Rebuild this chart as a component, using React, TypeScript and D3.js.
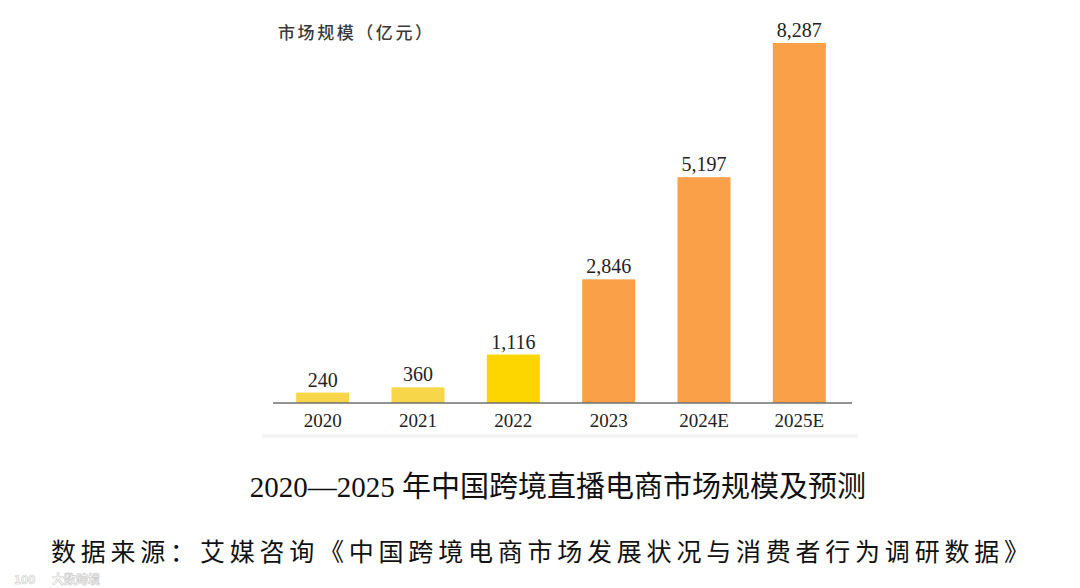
import { useEffect, useRef } from 'react';
import * as d3 from 'd3';

const years = ['2020', '2021', '2022', '2023', '2024E', '2025E'];
const marketSize = [240, 360, 1116, 2846, 5197, 8287];
const barColors = ['#f7d64a', '#f7d64a', '#fdd600', '#f9a048', '#f9a048', '#f9a048'];

const unitLabel = '市场规模（亿元）';
const chartTitle = '2020—2025 年中国跨境直播电商市场规模及预测';
const sourceNote = '数据来源：艾媒咨询《中国跨境电商市场发展状况与消费者行为调研数据》';

const W = 1080;
const H = 588;
const serif = '"Liberation Serif", "Noto Sans CJK SC", serif';

export default function App() {
  const svgRef = useRef<SVGSVGElement>(null);

  useEffect(() => {
    if (!svgRef.current) return;
    const svg = d3.select(svgRef.current);
    svg.selectAll('*').remove();

    svg.append('rect').attr('width', W).attr('height', H).attr('fill', '#fff');

    const baseY = 403;

    const x = d3.scaleBand<string>()
      .domain(years)
      .range([275, 847])
      .paddingInner(0.444)
      .paddingOuter(0.222);

    const y = d3.scaleLinear()
      .domain([0, 8300])
      .range([baseY, 42.4]);

    // faint edge under the chart image
    svg.append('line')
      .attr('x1', 262).attr('x2', 858)
      .attr('y1', 436).attr('y2', 436)
      .attr('stroke', '#f2f2f2')
      .attr('stroke-width', 3);

    // unit label
    svg.append('text')
      .attr('x', 278)
      .attr('y', 39)
      .attr('textLength', 154)
      .style('font-family', '"Noto Sans CJK SC", sans-serif')
      .style('font-size', '17px')
      .style('font-weight', 500)
      .style('fill', '#3a3a3a')
      .text(unitLabel);

    const data = years.map((yr, i) => ({ yr, v: marketSize[i], c: barColors[i] }));

    svg.selectAll('.bar')
      .data(data)
      .enter().append('rect')
      .attr('class', 'bar')
      .attr('x', d => x(d.yr) || 0)
      .attr('width', x.bandwidth())
      .attr('y', d => y(d.v))
      .attr('height', d => baseY - y(d.v))
      .attr('fill', d => d.c);

    svg.selectAll('.val')
      .data(data)
      .enter().append('text')
      .attr('class', 'val')
      .attr('x', d => (x(d.yr) || 0) + x.bandwidth() / 2)
      .attr('y', d => y(d.v) - 6)
      .attr('text-anchor', 'middle')
      .style('font-family', serif)
      .style('font-size', '20px')
      .style('fill', '#222')
      .text(d => d3.format(',')(d.v));

    // axis line
    svg.append('line')
      .attr('x1', 273).attr('x2', 852)
      .attr('y1', baseY).attr('y2', baseY)
      .attr('stroke', '#6f6f6f')
      .attr('stroke-width', 1.5);

    svg.selectAll('.yr')
      .data(years)
      .enter().append('text')
      .attr('class', 'yr')
      .attr('x', d => (x(d) || 0) + x.bandwidth() / 2)
      .attr('y', 427)
      .attr('text-anchor', 'middle')
      .style('font-family', serif)
      .style('font-size', '19px')
      .style('fill', '#222')
      .text(d => d);

    svg.append('text')
      .attr('x', 558)
      .attr('y', 497)
      .attr('text-anchor', 'middle')
      .style('font-family', serif)
      .style('font-size', '29px')
      .style('fill', '#111')
      .text(chartTitle);

    svg.append('text')
      .attr('x', 540)
      .attr('y', 561)
      .attr('text-anchor', 'middle')
      .attr('textLength', 978)
      .style('font-family', serif)
      .style('font-size', '25px')
      .style('fill', '#111')
      .text(sourceNote);

    // watermark
    const wm = svg.append('g').attr('opacity', 0.85);
    wm.append('text')
      .attr('x', 14)
      .attr('y', 584)
      .style('font-family', '"Noto Sans CJK SC", sans-serif')
      .style('font-size', '12px')
      .style('font-weight', 'bold')
      .style('fill', '#fff')
      .style('stroke', '#c8c8c8')
      .style('stroke-width', 0.7)
      .text('100');
    wm.append('text')
      .attr('x', 52)
      .attr('y', 584)
      .style('font-family', '"Noto Sans CJK SC", sans-serif')
      .style('font-size', '12px')
      .style('font-weight', 'bold')
      .style('fill', '#fff')
      .style('stroke', '#c8c8c8')
      .style('stroke-width', 0.7)
      .text('大数跨境');
  }, []);

  return (
    <svg
      ref={svgRef}
      width={W}
      height={H}
      style={{ position: 'absolute', left: 0, top: 0, display: 'block' }}
    />
  );
}
